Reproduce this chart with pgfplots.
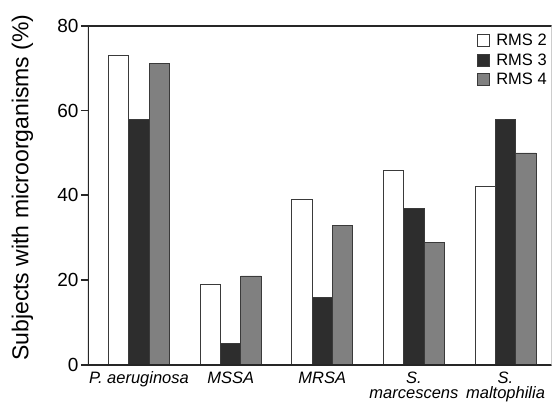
\documentclass[border=0pt]{standalone}
\usepackage{pgfplots}
\pgfplotsset{compat=1.18}
\usepackage{fontspec}
\setmainfont{Liberation Sans}
\definecolor{barblack}{HTML}{2D2D2D}
\definecolor{bargray}{HTML}{808080}
\definecolor{edge}{HTML}{3A3A3A}
\definecolor{axisc}{HTML}{262626}
\begin{document}
\begin{tikzpicture}
\begin{axis}[
  name=ax,
  at={(0,0)}, anchor=south west,
  scale only axis,
  width=463.7pt, height=339.3pt,
  xmin=-0.557, xmax=4.504,
  ymin=0, ymax=80,
  ytick={0,20,40,60,80},
  xtick={0,1,2,3,4},
  xticklabels={{P. aeruginosa},{MSSA},{MRSA},{S.\\marcescens},{S.\\maltophilia}},
  xticklabel style={font=\fontsize{16.5}{15}\selectfont\itshape, align=center, anchor=north, yshift=3.5pt},
  yticklabel style={font=\fontsize{19}{20}\selectfont, xshift=1pt},
  /pgf/number format/assume math mode=true,
  ytick pos=left,
  tick align=outside,
  major tick length=7pt,
  ytick style={line width=1.8pt, axisc},
  xtick style={draw=none},
  axis line style={draw=none},
  ylabel={Subjects with microorganisms (\%)},
  ylabel style={font=\fontsize{23}{26}\selectfont, at={(axis description cs:-0.1413,0.523)}, anchor=center},
  ybar=0pt,
  bar width=20.3pt,
  legend style={draw=none, fill=none, at={(axis description cs:0.994,0.982)}, anchor=north east,
    font=\fontsize{16.5}{18}\selectfont, row sep=2.5pt, inner sep=0pt,
    /tikz/every odd column/.append style={column sep=4pt}},
  legend cell align=left,
  legend image code/.code={\draw[#1, line width=0.8pt] (0pt,-6pt) rectangle (12pt,6pt);},
]
\addplot[fill=white, draw=edge, line width=0.8pt] coordinates {(0,73) (1,19) (2,39) (3,46) (4,42)};
\addplot[fill=barblack, draw=edge, line width=0.8pt] coordinates {(0,58) (1,5) (2,16) (3,37) (4,58)};
\addplot[fill=bargray, draw=edge, line width=0.8pt] coordinates {(0,71) (1,21) (2,33) (3,29) (4,50)};
\legend{RMS 2, RMS 3, RMS 4}
\draw[axisc, line width=2.4pt] (rel axis cs:0,1) -- (rel axis cs:0,0) -- (rel axis cs:1,0);
\draw[axisc, line width=2.4pt] (rel axis cs:0,1) -- (rel axis cs:1,1);
\draw[gray!60, line width=0.6pt] (rel axis cs:1,0) -- (rel axis cs:1,1);
\end{axis}
\path ([shift={(-88pt,-37pt)}]ax.south west) rectangle ([shift={(465pt,365pt)}]ax.south west);
\end{tikzpicture}
\end{document}
